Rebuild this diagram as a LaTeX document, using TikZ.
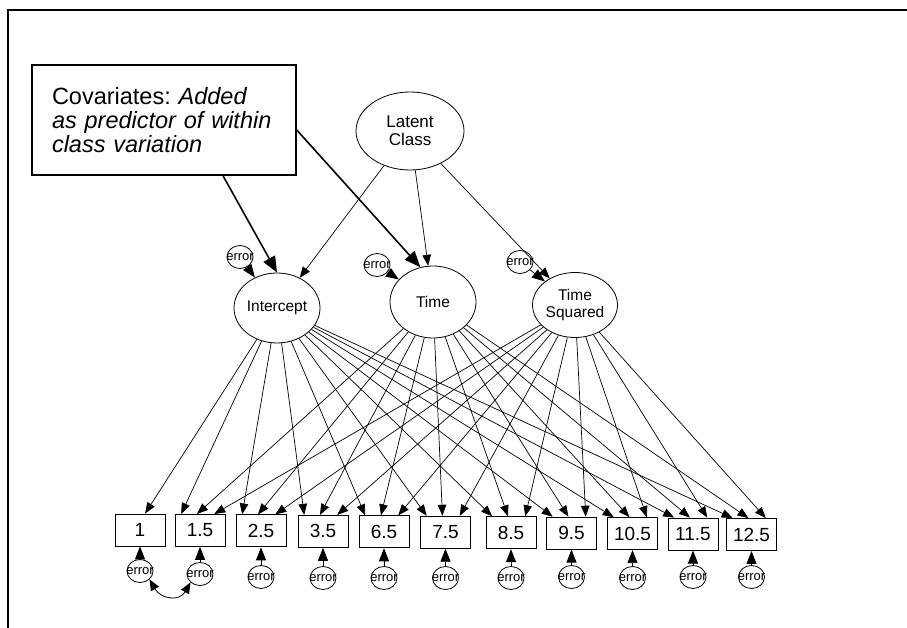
\documentclass[tikz,border=0pt]{standalone}
\usepackage{fontspec}
\setmainfont{Liberation Sans}
\usetikzlibrary{calc}
\usetikzlibrary{positioning}
\usetikzlibrary{shapes.geometric}
\usetikzlibrary{arrows.meta}

\newcommand{\errtxt}{\makebox[0pt]{error}}

\begin{document}
\begin{tikzpicture}[x=1pt,y=-1pt,
	latent/.style={draw, ellipse, inner sep=0pt, line width=0.8pt, align=center,
		font=\fontsize{15.5}{17}\selectfont},
	obs/.style={draw, rectangle, minimum width=50pt, minimum height=32pt,
		inner sep=0pt, line width=0.9pt, font=\fontsize{19}{19}\selectfont},
	errc/.style={draw, ellipse, minimum width=26pt, minimum height=23pt,
		inner sep=0pt, line width=0.8pt, font=\fontsize{13}{13}\selectfont},
	loading/.style={line width=0.7pt, -{Triangle[length=11pt,width=8.5pt]}},
	errarr/.style={line width=0.8pt, -{Triangle[length=13pt,width=10pt]}},
	callarr/.style={line width=1.6pt, -{Triangle[length=16pt,width=13pt]}}
	]
	\useasboundingbox (0,0) rectangle (907,628);
	\draw[line width=2pt] (8,628) -- (8,10) -- (907,10);

	% growth factors
	\node[latent, minimum width=108pt, minimum height=78pt,
		font=\fontsize{17}{18}\selectfont] (lc) at (410,131) {Latent\\Class};
	\node[latent, minimum width=86pt, minimum height=70pt] (int) at (277,308) {Intercept};
	\node[latent, minimum width=86pt, minimum height=72pt] (time) at (433,302) {Time};
	\node[latent, minimum width=85pt, minimum height=65pt] (tsq) at (575,305) {Time\\Squared};

	\node[errc] (ei) at (240,257) {\errtxt};
	\node[errc] (et) at (377,265) {\errtxt};
	\node[errc] (es) at (520,262) {\errtxt};

	\node[draw, line width=1.5pt, text width=224pt, inner xsep=20pt, minimum height=110pt,
		align=left, font=\fontsize{23.5}{24}\selectfont] (callout) at (164,120)
		{Covariates:\ \textit{Added}\\\textit{as predictor of within}\\\textit{class variation}};

	% observed measures and their errors
	\foreach \lab/\x/\ey [count=\i] in {1/140/571, 1.5/200/574, 2.5/261/577, 3.5/323/578,
		6.5/384/578, 7.5/445.5/578, 8.5/511/578, 9.5/571.5/577, 10.5/632.5/578,
		11.5/693/577, 12.5/751.5/577}
	{
		\node[obs] (b\i) at (\x,{530+0.45*(\i-1)}) {\lab};
		\node[errc] (e\i) at (\x,\ey) {\errtxt};
		\draw[errarr] (e\i) -- (b\i);
	}

	\draw[loading] (lc) -- (int);
	\draw[loading] (lc) -- (time);
	\draw[loading] (lc) -- (tsq);
	\draw[errarr] (ei) -- (int);
	\draw[errarr] (et) -- (time);
	\draw[errarr] (es) -- (tsq);

	\draw[callarr] ([xshift=59pt]callout.south) -- (int.north);
	\draw[callarr] ([yshift=-10pt]callout.east) -- (time.110);

	\draw[loading] (int) -- ($(b1.north west)!0.6!(b1.north east)$);
	\foreach \i in {2,...,11}
	{
		\draw[loading] (int) -- ($(b\i.north west)!0.13!(b\i.north east)$);
		\draw[loading] (time) -- ($(b\i.north west)!0.44!(b\i.north east)$);
		\draw[loading] (tsq) -- ($(b\i.north west)!0.78!(b\i.north east)$);
	}

	\draw[line width=0.8pt, {Triangle[length=11pt,width=9pt]}-{Triangle[length=11pt,width=9pt]}]
		(e1.south east) to[out=-60, in=-120, looseness=1.4] (e2.south west);
\end{tikzpicture}
\end{document}
